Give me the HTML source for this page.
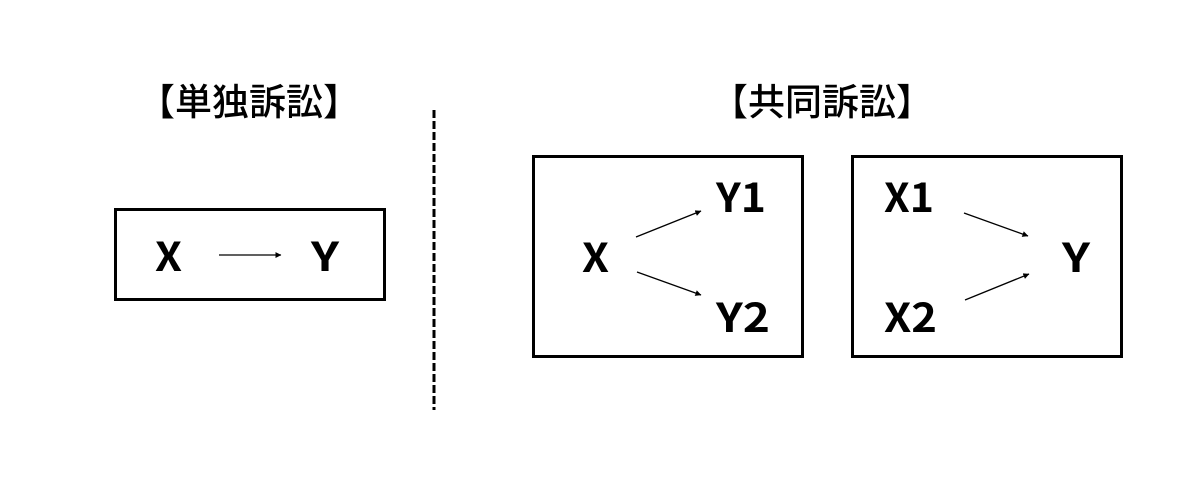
<!DOCTYPE html>
<html lang="ja"><head><meta charset="utf-8"><style>
html,body{margin:0;padding:0;background:#fff}
svg{display:block}
.t{font-family:"Liberation Sans","Noto Sans CJK JP",sans-serif;font-size:37px;font-weight:500;fill:#000}
.l{font-family:"Noto Sans CJK JP","Liberation Sans",sans-serif;font-size:40px;font-weight:700;fill:#000}
</style></head><body>
<svg width="1200" height="488" viewBox="0 0 1200 488" xmlns="http://www.w3.org/2000/svg">
<defs><marker id="a" viewBox="0 0 8 8" refX="7.5" refY="4" markerWidth="6" markerHeight="6" markerUnits="userSpaceOnUse" orient="auto"><path d="M0 0L8 4L0 8Z" fill="#000"/></marker></defs>
<rect width="1200" height="488" fill="#fff"/>
<text class="t" x="249" y="115" text-anchor="middle">【単独訴訟】</text>
<text class="t" x="822" y="115" text-anchor="middle">【共同訴訟】</text>
<line x1="434" y1="110" x2="434" y2="410" stroke="#000" stroke-width="3" stroke-dasharray="8 3"/>
<g fill="none" stroke="#000" stroke-width="3">
<rect x="115.500" y="209.500" width="269" height="90"/>
<rect x="533.500" y="156.500" width="269" height="200"/>
<rect x="852.500" y="156.500" width="269" height="200"/>
</g>
<g stroke="#000" stroke-width="1.300" fill="none">
<line x1="219" y1="255" x2="281" y2="255" marker-end="url(#a)"/>
<line x1="636" y1="237" x2="701" y2="211" marker-end="url(#a)"/>
<line x1="637" y1="272" x2="701" y2="295" marker-end="url(#a)"/>
<line x1="964" y1="213" x2="1028" y2="236" marker-end="url(#a)"/>
<line x1="965" y1="300" x2="1029" y2="274" marker-end="url(#a)"/>
</g>
<text class="l" x="155" y="271" textLength="27" lengthAdjust="spacingAndGlyphs">X</text>
<text class="l" x="311" y="271" textLength="28" lengthAdjust="spacingAndGlyphs">Y</text>
<text class="l" x="582" y="272" textLength="27" lengthAdjust="spacingAndGlyphs">X</text>
<text class="l" x="716" y="212" textLength="50" lengthAdjust="spacingAndGlyphs">Y1</text>
<text class="l" x="716" y="332" textLength="54" lengthAdjust="spacingAndGlyphs">Y2</text>
<text class="l" x="884" y="212" textLength="50" lengthAdjust="spacingAndGlyphs">X1</text>
<text class="l" x="884" y="332" textLength="53" lengthAdjust="spacingAndGlyphs">X2</text>
<text class="l" x="1062" y="272" textLength="28" lengthAdjust="spacingAndGlyphs">Y</text>
</svg>
</body></html>
